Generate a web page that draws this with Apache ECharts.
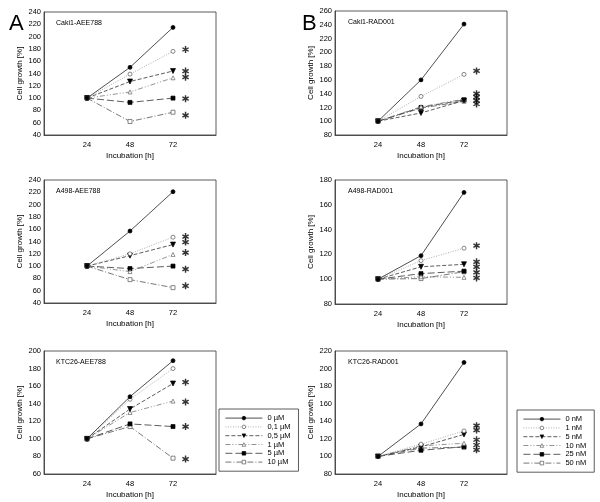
<!DOCTYPE html>
<html><head><meta charset="utf-8">
<script src="https://cdn.jsdelivr.net/npm/echarts@6/dist/echarts.min.js"></script>
<style>html,body{margin:0;padding:0;background:#fff}#c{width:600px;height:502px}</style>
</head><body><div id="c"></div>
<script>
const hours = [24, 48, 72];
const concA = ['0 µM', '0,1 µM', '0,5 µM', '1 µM', '5 µM', '10 µM'];
const concB = ['0 nM', '1 nM', '5 nM', '10 nM', '25 nM', '50 nM'];

const caki1AEE = [[100,150,215],[100,139,176],[100,127,144],[100,110,133],[100,93,100],[100,62,77]];
const a498AEE  = [[100,157,221],[100,120,147],[100,117,135],[100,91,119],[100,96,100],[100,78,65]];
const ktc26AEE = [[100,148,189],[100,145,180],[100,134,163],[100,130,143],[100,117,114],[100,114,78]];
const caki1RAD = [[100,160,241],[100,136,168],[100,112,130],[100,121,132],[100,120,131],[100,119,129]];
const a498RAD  = [[100,119,170],[100,115,125],[100,110,112],[100,102,101.5],[100,104.5,106.5],[100,100.5,106]];
const ktc26RAD = [[100,137,207],[100,114,129],[100,111,125],[100,112,115],[100,107,111],[100,109.5,110.5]];

const starX = 79;
const caki1AEEStars = [179,144,134,99,72];
const a498AEEStars  = [148,139,122,95,68];
const ktc26AEEStars = [164.5,142,114,77];
const caki1RADStars = [173,140,135,130,125];
const a498RADStars  = [127,114,110,105.5,101];
const ktc26RADStars = [135,130,119,113,107.5];

const panelTitles = ['Caki1-AEE788','A498-AEE788','KTC26-AEE788','Caki1-RAD001','A498-RAD001','KTC26-RAD001'];
const yRanges = [[40,240],[40,240],[60,200],[80,260],[80,180],[80,220]];

const FONT = 'Liberation Sans, Arial, sans-serif';
const downTri = 'path://M0,0 L10,0 L5,9 Z';
const upTri = 'path://M5,0 L10,9 L0,9 Z';
const asterisk = 'path://M4,0 L6,0 L6,10 L4,10 Z M8.83,1.63 L9.83,3.37 L1.17,8.37 L0.17,6.63 Z M0.17,3.37 L1.17,1.63 L9.83,6.63 L8.83,8.37 Z';

const styles = [
  {symbol:'circle', fill:'#000', border:'#000', line:{type:'solid', color:'#222', width:0.8}},
  {symbol:'circle', fill:'#fff', border:'#555', line:{type:[1,1.5], color:'#999', width:0.8}},
  {symbol:downTri, fill:'#000', border:'#000', line:{type:[4,2], color:'#333', width:0.8}},
  {symbol:upTri, fill:'#fff', border:'#666', line:{type:[5,2,1,2,1,2], color:'#777', width:0.8}},
  {symbol:'rect', fill:'#000', border:'#000', line:{type:[7,3], color:'#333', width:0.8}},
  {symbol:'rect', fill:'#fff', border:'#555', line:{type:[6,2,1,2], color:'#555', width:0.8}}
];

const panels = [
  {data:caki1AEE, stars:caki1AEEStars, names:concA, left:44, top:12, h:123},
  {data:a498AEE, stars:a498AEEStars, names:concA, left:44, top:180, h:123},
  {data:ktc26AEE, stars:ktc26AEEStars, names:concA, left:44, top:351, h:123},
  {data:caki1RAD, stars:caki1RADStars, names:concB, left:335, top:11, h:124},
  {data:a498RAD, stars:a498RADStars, names:concB, left:335, top:180, h:124},
  {data:ktc26RAD, stars:ktc26RADStars, names:concB, left:335, top:351, h:123}
];

const grid = [], xAxis = [], yAxis = [], series = [], title = [];
panels.forEach((p, i) => {
  grid.push({left:p.left, top:p.top, width:172, height:p.h, show:true, borderColor:'#333', borderWidth:0.8, backgroundColor:'transparent'});
  xAxis.push({gridIndex:i, type:'value', min:0, max:96, interval:24,
    name:'Incubation [h]', nameLocation:'middle', nameGap:17,
    nameTextStyle:{fontFamily:FONT, fontSize:8, color:'#000'},
    axisLine:{show:true, lineStyle:{color:'#333', width:0.8}}, axisTick:{show:false}, splitLine:{show:false},
    axisLabel:{fontFamily:FONT, fontSize:7.5, color:'#000', margin:6, formatter:v => hours.includes(v) ? String(v) : ''}});
  yAxis.push({gridIndex:i, type:'value', min:yRanges[i][0], max:yRanges[i][1], interval:20,
    name:'Cell growth [%]', nameLocation:'middle', nameRotate:90, nameGap:20,
    nameTextStyle:{fontFamily:FONT, fontSize:8, color:'#000'},
    axisLine:{show:true, lineStyle:{color:'#333', width:0.8}}, axisTick:{show:false}, splitLine:{show:false},
    axisLabel:{fontFamily:FONT, fontSize:7.5, color:'#000', margin:3}});
  p.data.forEach((vals, k) => {
    const s = styles[k];
    series.push({type:'line', name:p.names[k], xAxisIndex:i, yAxisIndex:i,
      data:hours.map((h, j) => [h, vals[j]]),
      symbol:s.symbol, symbolSize:k===2?5:4, showSymbol:true,
      lineStyle:s.line, itemStyle:{color:s.fill, borderColor:s.border, borderWidth:0.7},
      emphasis:{disabled:true}, animation:false, z:10-k});
  });
  series.push({type:'scatter', xAxisIndex:i, yAxisIndex:i, symbol:asterisk, symbolSize:7,
    itemStyle:{color:'#000'}, data:p.stars.map(v => [starX, v]), animation:false, silent:true});
  title.push({text:panelTitles[i], left:p.left + (i<3?7:8), top:p.top + 3,
    textStyle:{fontFamily:FONT, fontSize:7, fontWeight:'normal', color:'#000'}});
});

title.push({text:'A', left:4, top:8, textStyle:{fontFamily:FONT, fontSize:22, fontWeight:'normal', color:'#000'}});
title.push({text:'B', left:297, top:8, textStyle:{fontFamily:FONT, fontSize:22, fontWeight:'normal', color:'#000'}});

const legendCommon = {orient:'vertical', itemWidth:37, itemHeight:4.5, itemGap:0.6,
  borderColor:'#333', borderWidth:0.8, padding:[5,8,5,6], backgroundColor:'#fff',
  lineStyle:{width:0.8}, itemStyle:{borderWidth:0.7},
  textStyle:{fontFamily:FONT, fontSize:7.5, color:'#000', lineHeight:8.2}, selectedMode:false};

const chart = echarts.init(document.getElementById('c'), null, {renderer:'canvas'});
chart.setOption({
  backgroundColor:'#fff', animation:false,
  title, grid, xAxis, yAxis, series,
  legend:[
    Object.assign({}, legendCommon, {data:concA, left:219, top:409}),
    Object.assign({}, legendCommon, {data:concB, left:517, top:410})
  ]
});
</script></body></html>
